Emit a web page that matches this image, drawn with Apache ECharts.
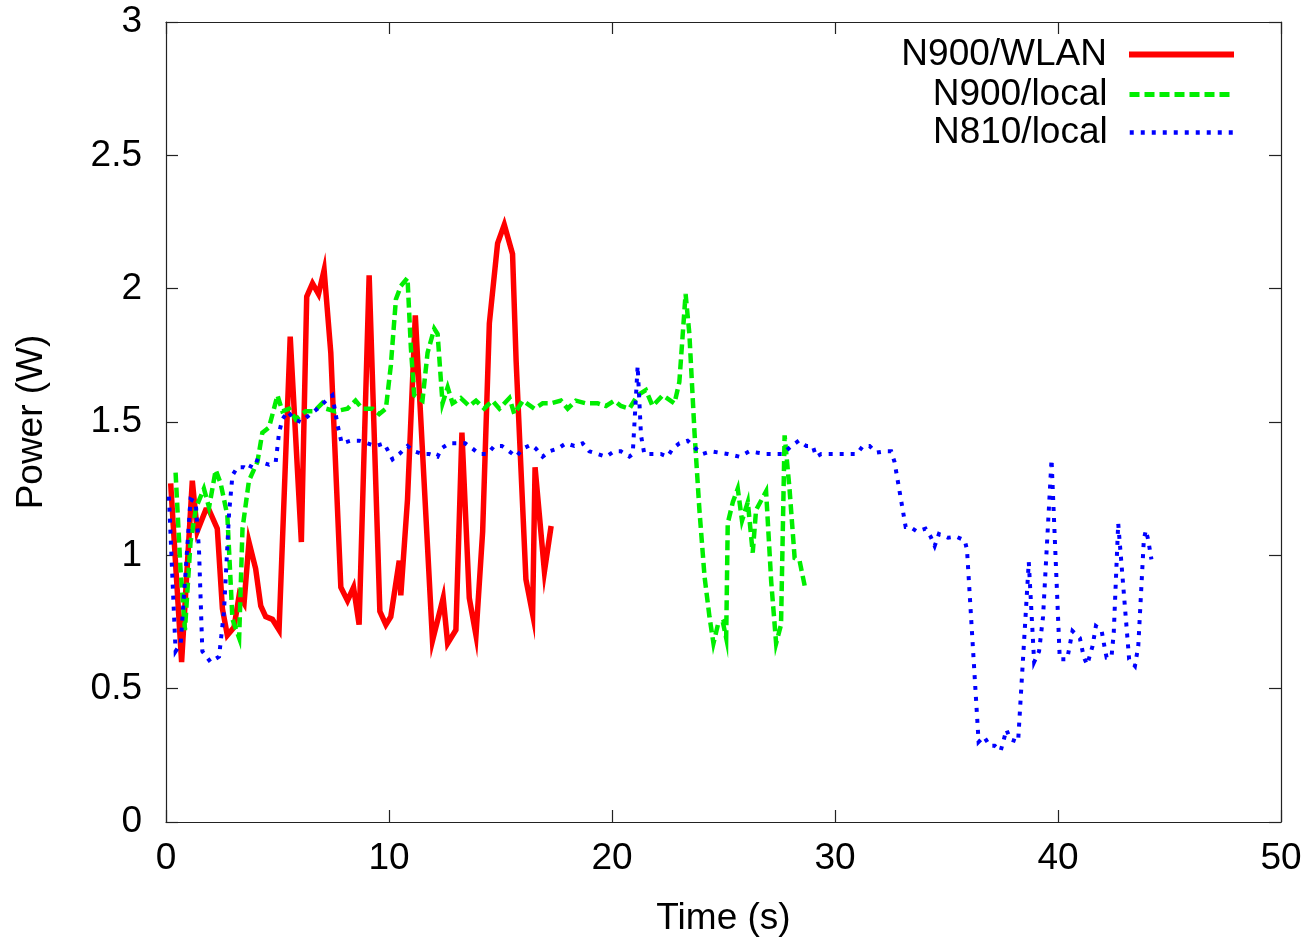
<!DOCTYPE html>
<html>
<head>
<meta charset="utf-8">
<script src="https://cdn.jsdelivr.net/npm/echarts@6/dist/echarts.min.js"></script>
<style>
html,body{margin:0;padding:0;background:#fff;}
#chart{width:1306px;height:942px;}
</style>
</head>
<body>
<div id="chart"></div>
<script>
// ---- data ----
var seriesNames = ['N900/WLAN', 'N900/local', 'N810/local'];
var xTicks = [0, 10, 20, 30, 40, 50];
var yTicks = [0, 0.5, 1, 1.5, 2, 2.5, 3];

var wlanTime = [0.21,0.7,1.18,1.4,1.78,1.93,2.3,2.53,2.75,3.05,3.28,3.5,3.72,4.02,4.25,4.47,4.77,5.07,5.57,6.07,6.31,6.57,6.84,7.09,7.39,7.84,8.14,8.41,8.66,9.11,9.59,9.86,10.08,10.46,10.53,10.83,11.18,11.95,12.43,12.63,13.0,13.27,13.6,13.9,14.2,14.5,14.87,15.17,15.54,15.7,16.14,16.44,16.55,16.97,17.27];
var wlanPower = [1.27,0.6,1.28,1.09,1.17,1.17,1.10,0.80,0.70,0.73,0.85,0.82,1.05,0.95,0.81,0.77,0.76,0.72,1.82,1.05,1.97,2.02,1.98,2.07,1.76,0.88,0.83,0.88,0.74,2.05,0.79,0.74,0.77,0.98,0.85,1.21,1.90,0.68,0.84,0.67,0.72,1.46,0.84,0.70,1.09,1.87,2.17,2.24,2.13,1.73,0.91,0.78,1.33,0.94,1.11];

var n900Time = [0.43,0.65,0.85,1.1,1.35,1.7,1.93,2.23,2.45,2.75,2.98,3.28,3.43,3.72,4.1,4.32,4.62,5.0,5.22,5.52,5.82,6.26,6.64,7.0,7.17,7.6,8.14,8.5,8.8,9.26,9.56,9.86,10.08,10.31,10.53,10.83,10.98,11.13,11.5,11.73,12.03,12.18,12.4,12.63,12.85,13.22,13.6,13.9,14.27,14.64,14.95,15.4,15.62,16.0,16.52,16.89,17.27,17.71,18.01,18.38,18.83,19.36,19.73,20.1,20.4,20.78,21.15,21.52,21.82,22.27,22.8,23.02,23.3,23.47,23.7,23.92,24.15,24.37,24.55,24.75,24.97,25.12,25.19,25.42,25.64,25.83,26.09,26.31,26.46,26.91,27.14,27.36,27.58,27.74,27.96,28.19,28.41,28.68];
var n900Power = [1.31,0.95,0.72,1.05,1.18,1.25,1.18,1.32,1.27,1.15,0.76,0.69,1.10,1.28,1.35,1.46,1.48,1.60,1.54,1.55,1.51,1.54,1.54,1.57,1.55,1.54,1.55,1.58,1.55,1.55,1.53,1.55,1.71,1.96,2.01,2.04,1.78,1.60,1.58,1.76,1.85,1.83,1.57,1.63,1.57,1.59,1.56,1.58,1.55,1.58,1.55,1.59,1.53,1.58,1.55,1.57,1.57,1.58,1.55,1.58,1.57,1.57,1.56,1.58,1.56,1.55,1.60,1.62,1.56,1.60,1.57,1.65,1.98,1.83,1.46,1.17,0.92,0.77,0.67,0.74,0.75,0.69,1.12,1.20,1.25,1.13,1.20,1.01,1.17,1.24,0.90,0.67,0.74,1.45,1.25,0.99,0.98,0.87];

var n810Time = [0.13,0.43,0.66,1.1,1.33,1.48,1.63,2.0,2.38,2.6,2.83,2.98,3.2,3.5,3.72,3.95,4.25,4.62,4.92,5.07,5.22,5.45,5.75,6.05,6.34,6.64,6.94,7.17,7.46,7.69,7.88,8.29,8.66,9.03,9.41,9.78,10.16,10.46,10.83,11.13,11.5,11.8,12.18,12.33,12.7,13.08,13.42,13.75,14.05,14.42,14.72,15.06,15.39,15.7,16.0,16.37,16.59,16.89,17.19,17.56,17.94,18.31,18.68,18.98,19.36,19.73,20.1,20.4,20.78,20.93,21.15,21.3,21.45,21.82,22.19,22.49,22.72,23.02,23.39,23.76,24.06,24.44,24.81,25.19,25.71,26.16,26.53,26.91,27.29,27.66,28.04,28.38,28.71,29.0,29.16,29.38,29.76,30.2,30.66,30.98,31.25,31.55,31.85,32.23,32.52,32.67,33.17,33.37,33.67,34.06,34.29,34.47,34.66,35.07,35.44,35.82,35.92,36.44,36.68,36.94,37.16,37.43,37.69,37.86,38.21,38.69,38.93,39.15,39.33,39.71,40.08,40.41,40.65,40.98,41.16,41.31,41.55,41.7,41.95,42.1,42.18,42.4,42.5,42.7,43.19,43.45,43.6,43.85,43.94,44.04,44.19];
var n810Power = [1.22,0.64,0.67,1.21,1.20,1.02,0.64,0.60,0.62,0.79,1.16,1.30,1.33,1.33,1.32,1.36,1.35,1.34,1.35,1.46,1.51,1.54,1.51,1.50,1.52,1.54,1.56,1.58,1.60,1.49,1.42,1.43,1.43,1.42,1.41,1.42,1.36,1.38,1.41,1.39,1.38,1.38,1.37,1.40,1.42,1.42,1.42,1.40,1.38,1.38,1.41,1.41,1.39,1.37,1.40,1.415,1.40,1.37,1.39,1.40,1.42,1.41,1.42,1.39,1.38,1.37,1.39,1.39,1.37,1.38,1.71,1.45,1.38,1.38,1.38,1.37,1.40,1.42,1.43,1.40,1.38,1.39,1.385,1.38,1.37,1.39,1.385,1.38,1.38,1.38,1.41,1.43,1.41,1.41,1.37,1.38,1.38,1.38,1.38,1.38,1.41,1.41,1.385,1.39,1.39,1.35,1.106,1.106,1.09,1.10,1.07,1.035,1.08,1.066,1.07,1.056,1.02,0.30,0.32,0.286,0.286,0.267,0.346,0.31,0.30,0.975,0.60,0.64,0.77,1.36,0.61,0.61,0.716,0.69,0.617,0.59,0.66,0.735,0.72,0.65,0.617,0.62,0.71,1.12,0.61,0.585,0.66,1.06,1.094,1.06,0.985];

function zip(a, b) { return a.map(function (t, i) { return [t, b[i]]; }); }

var FONT = 'Liberation Sans, Arial, sans-serif';
var FS = 37;
var AXC = '#222';

var chart = echarts.init(document.getElementById('chart'), null, {renderer: 'canvas'});

function xAx(pos, show) {
  return {
    type: 'value', position: pos, min: xTicks[0], max: xTicks[xTicks.length - 1], interval: 10,
    axisLine: {show: true, onZero: false, lineStyle: {color: AXC, width: 1.2}},
    axisTick: {show: true, inside: true, length: 12, lineStyle: {color: AXC, width: 1.2}},
    axisLabel: {show: show, color: '#000', fontFamily: FONT, fontSize: FS, margin: 18},
    splitLine: {show: false},
    name: show ? 'Time (s)' : '', nameLocation: 'middle', nameGap: 78,
    nameTextStyle: {color: '#000', fontFamily: FONT, fontSize: FS}
  };
}
function yAx(pos, show) {
  return {
    type: 'value', position: pos, min: yTicks[0], max: yTicks[yTicks.length - 1], interval: 0.5,
    axisLine: {show: true, onZero: false, lineStyle: {color: AXC, width: 1.2}},
    axisTick: {show: true, inside: true, length: 12, lineStyle: {color: AXC, width: 1.2}},
    axisLabel: {show: show, color: '#000', fontFamily: FONT, fontSize: FS, margin: 24},
    splitLine: {show: false},
    name: show ? 'Power (W)' : '', nameLocation: 'middle', nameGap: 116, nameRotate: 90,
    nameTextStyle: {color: '#000', fontFamily: FONT, fontSize: FS}
  };
}

var colors = ['#ff0000', '#00ee00', '#0000ff'];
var styles = [
  {width: 5.5, type: 'solid'},
  {width: 4.5, type: [10, 5]},
  {width: 4, type: [4, 7]}
];
var legendLine = [
  {width: 6, type: 'solid'},
  {width: 5, type: [10, 5]},
  {width: 4.5, type: [4, 7]}
];
var datas = [zip(wlanTime, wlanPower), zip(n900Time, n900Power), zip(n810Time, n810Power)];
var legendTops = [31, 71, 109];

var legends = seriesNames.map(function (nm, i) {
  return {
    data: [nm], right: 64, top: legendTops[i], orient: 'horizontal', align: 'right',
    itemWidth: 105, itemHeight: 8, itemGap: 0, selectedMode: false,
    itemStyle: {opacity: 0},
    lineStyle: {color: colors[i], width: legendLine[i].width, type: legendLine[i].type, opacity: 1},
    textStyle: {color: '#000', fontFamily: FONT, fontSize: FS, padding: [0, 17, 0, 0]}
  };
});

chart.setOption({
  animation: false,
  backgroundColor: '#fff',
  grid: {left: 166, right: 25, top: 22, bottom: 119, containLabel: false},
  xAxis: [xAx('bottom', true), xAx('top', false)],
  yAxis: [yAx('left', true), yAx('right', false)],
  legend: legends,
  series: seriesNames.map(function (nm, i) {
    return {
      name: nm, type: 'line', data: datas[i], showSymbol: false, symbol: 'none',
      xAxisIndex: 0, yAxisIndex: 0,
      color: colors[i],
      lineStyle: {color: colors[i], width: styles[i].width, type: styles[i].type, join: 'miter'}
    };
  })
});
</script>
</body>
</html>
